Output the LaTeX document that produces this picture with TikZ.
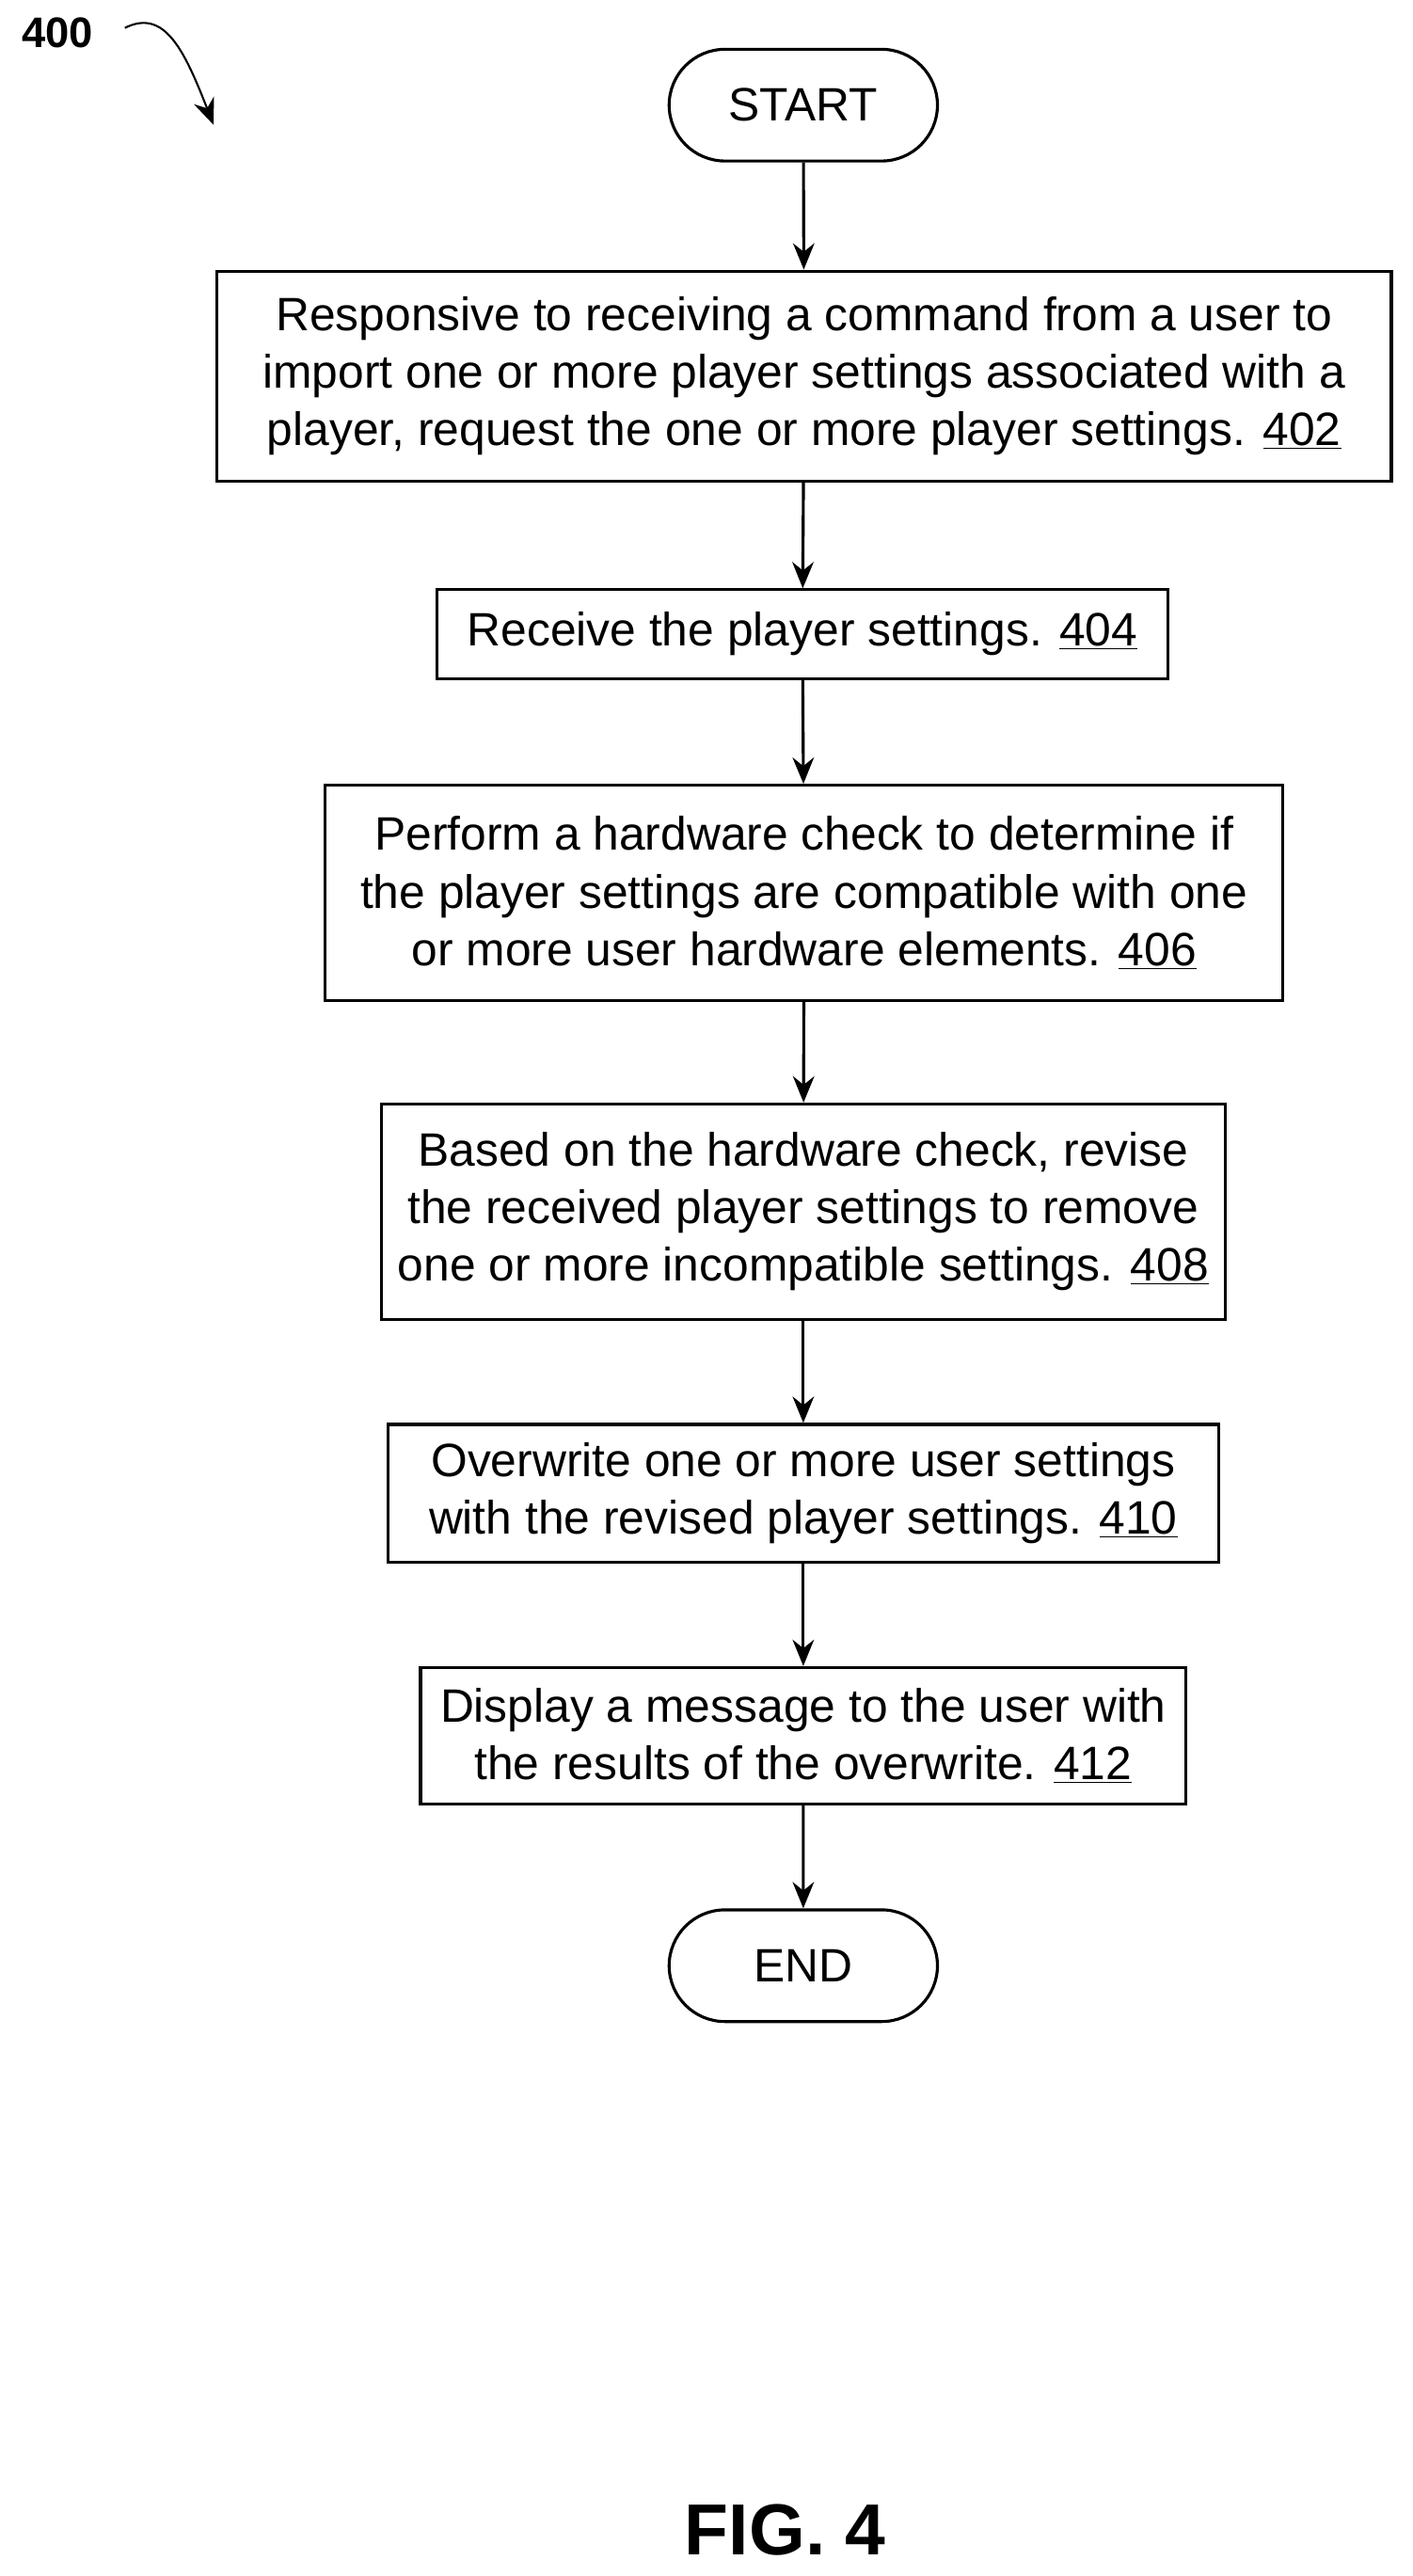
\documentclass[tikz,border=0pt]{standalone}
\usepackage{fontspec}
\setmainfont{Liberation Sans}
\usetikzlibrary{shapes.misc,arrows.meta,positioning}

\begin{document}
\begin{tikzpicture}[x=1pt,y=1pt,font=\fontsize{28.5}{35}\selectfont,
	box/.style={draw,line width=1.8pt,align=center,inner sep=0pt},
	term/.style={draw,line width=1.8pt,rounded rectangle,minimum width=170pt,minimum height=68pt},
	flow/.style={-{Stealth[length=16pt,width=13pt]},line width=1.8pt}]
	\useasboundingbox (0,0) rectangle (860,-1568);
	\node(start) [term] at (489,-64) {START};
	\node(s402) [box,minimum width=715pt,minimum height=128pt] at (489.5,-229) {Responsive to receiving a command from a user to\\import one or more player settings associated with a\\player, request the one or more player settings. \underline{402}};
	\node(s404) [box,minimum width=445pt,minimum height=54pt] at (488.5,-386) {Receive the player settings. \underline{404}};
	\node(s406) [box,minimum width=583pt,minimum height=131pt] at (489.5,-543.5) {Perform a hardware check to determine if\\the player settings are compatible with one\\or more user hardware elements. \underline{406}};
	\node(s408) [box,minimum width=514pt,minimum height=131pt] at (489,-737.5) {Based on the hardware check, revise\\the received player settings to remove\\one or more incompatible settings. \underline{408}};
	\node(s410) [box,minimum width=506pt,minimum height=84pt] at (489,-909) {Overwrite one or more user settings\\with the revised player settings. \underline{410}};
	\node(s412) [box,minimum width=466pt,minimum height=83pt] at (489,-1056.5) {Display a message to the user with\\the results of the overwrite. \underline{412}};
	\node(end) [term] at (489,-1196.5) {END};
	\node(fig) [font=\fontsize{44}{50}\selectfont\bfseries] at (478,-1540) {FIG. 4};
	\node(lbl) [font=\fontsize{26}{30}\selectfont\bfseries] at (35,-20) {400};
	\coordinate(tip) at (130,-76);
	\draw[flow] (start) -- (s402);
	\draw[flow] (s402) -- (s404);
	\draw[flow] (s404) -- (s406);
	\draw[flow] (s406) -- (s408);
	\draw[flow] (s408) -- (s410);
	\draw[flow] (s410) -- (s412);
	\draw[flow] (s412) -- (end);
	\draw[-{Stealth[length=16pt,width=13pt]},line width=1.2pt] (76,-17) .. controls (100,-5) and (112,-30) .. (tip);
\end{tikzpicture}
\end{document}
